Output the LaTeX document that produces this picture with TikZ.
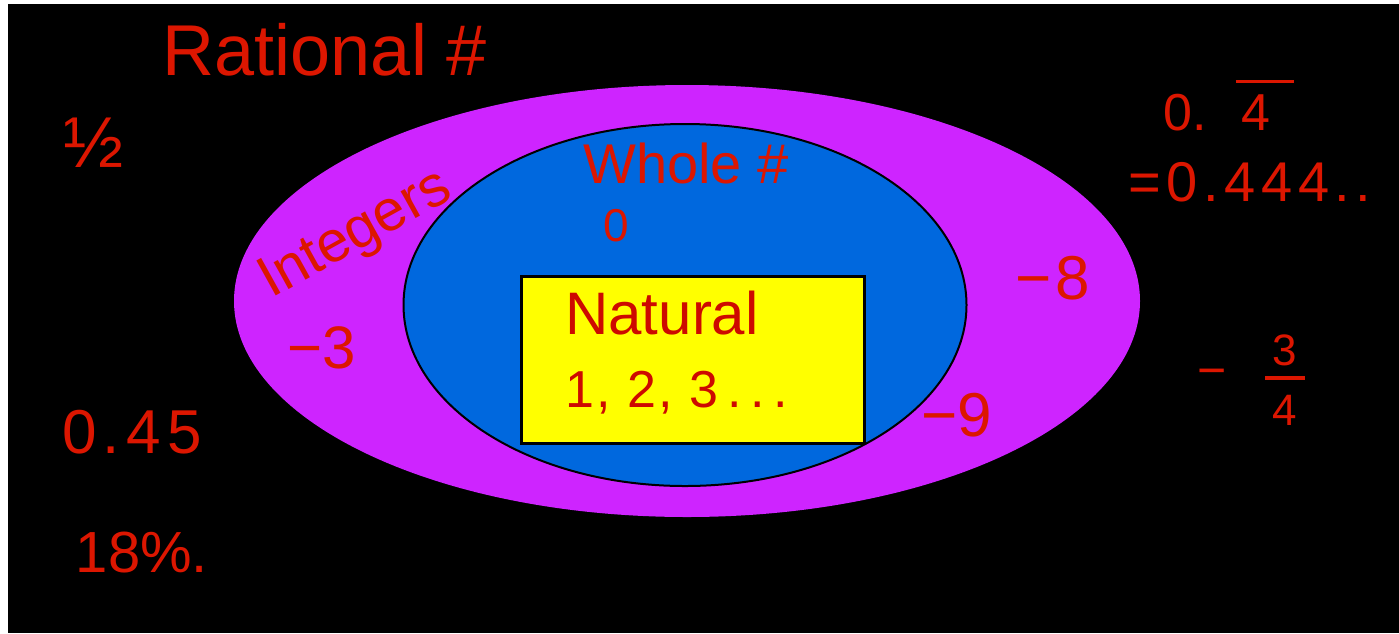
\documentclass[tikz,border=0pt]{standalone}
\usepackage{fontspec}
\setmainfont{Liberation Sans}
\usetikzlibrary{shapes.geometric}
\definecolor{ink}{RGB}{220,22,0}
\definecolor{inkdark}{RGB}{205,10,0}
\definecolor{magent}{RGB}{206,36,255}
\definecolor{bluefill}{RGB}{0,104,222}
\definecolor{yel}{RGB}{255,255,0}
\newcommand{\fs}[1]{\fontsize{#1}{#1}\selectfont}
\newcommand{\spread}[1]{\addfontfeature{LetterSpace=#1}}
\tikzset{
  lbl/.style={text=ink, inner sep=0pt, anchor=center},
  setshape/.style={inner sep=0pt, outer sep=0pt},
}
\begin{document}
\begin{tikzpicture}[x=1pt,y=-1pt]
\fill[white] (0,0) rectangle (1399,633);
\useasboundingbox (0,0) rectangle (1399,633);
\fill[black] (8,4) rectangle (1399,633);
\node[setshape, ellipse, fill=magent, minimum width=906pt, minimum height=432pt] (integers) at (687,301) {};
\node[setshape, ellipse, fill=bluefill, draw=black, line width=2pt, minimum width=563pt, minimum height=362pt] (whole) at (685,305) {};
\node[setshape, rectangle, fill=yel, draw=black, line width=3pt, minimum width=343pt, minimum height=167pt] (natural) at (692.5,359.5) {};
% labels
\node[lbl, font=\fs{72}] (trational) at (325,50) {Rational \#};
\node[lbl, font=\fs{58}, rotate=29] (tintegers) at (356,236) {Integers};
\node[lbl, font=\fs{56}] (twhole) at (686,163) {Whole \#};
\node[lbl, font=\fs{46}] (tzero) at (616,226) {0};
\node[lbl, font=\fs{60}, text=inkdark] (tnatural) at (662,313) {Natural};
\node[lbl, font=\fs{52}\spread{4}, text=inkdark] (tnums) at (677,393) {1, 2, 3\,.\,.\,.};
\node[lbl, font=\fs{60}] (tm3) at (322,348) {−3};
\node[lbl, font=\fs{62}\spread{6}] (tm8) at (1053,278) {−8};
\node[lbl, font=\fs{62}] (tm9) at (957,415) {−9};
\node[lbl, font=\fs{72}] (thalf) at (94,143) {½};
\node[lbl, font=\fs{62}\spread{10}] (tpoint45) at (132,432) {0.45};
\node[lbl, font=\fs{58}] (tpercent) at (142,553) {18\%.};
\node[lbl, font=\fs{52}, anchor=base west] (trep) at (1163,130) {0.\hspace{35pt}\makebox[0pt][l]{\hspace{-6pt}\rule[47pt]{58pt}{3pt}}4};
\node[lbl, font=\fs{56}\spread{10}] (teq) at (1250,182) {=0.444..};
\node[lbl, font=\fs{50}] (tminus) at (1212,378) {−};
\node[lbl, font=\fs{44}, align=center, anchor=base] (tfrac) at (1285,425) {3\\[-29pt]\rule{40pt}{4pt}\\[1pt]4};
\end{tikzpicture}
\end{document}
